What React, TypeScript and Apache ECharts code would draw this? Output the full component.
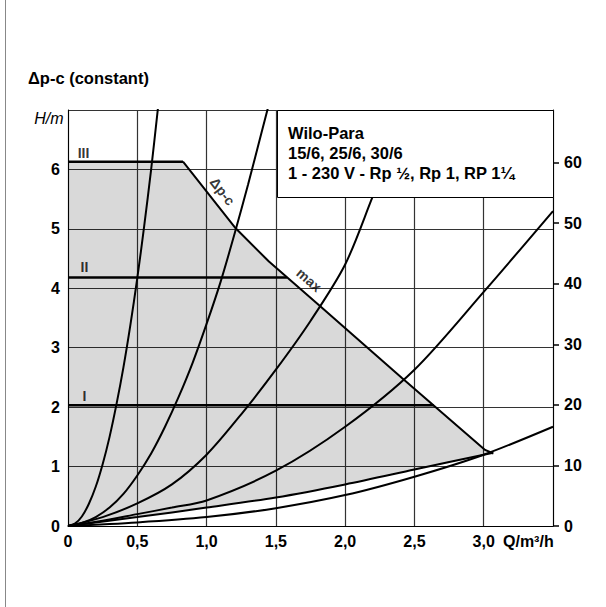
import React, { useEffect, useRef } from 'react';
import * as echarts from 'echarts';

// ---- tick labels ----
const xTickLabels = ['0', '0,5', '1,0', '1,5', '2,0', '2,5', '3,0'];
const leftTickLabels = ['0', '1', '2', '3', '4', '5', '6'];
const rightTickValues = [0, 10, 20, 30, 40, 50, 60];

// ---- system curves (Q in m3/h, H in m) ----
const curve1Q = [0, 0.05, 0.1, 0.15, 0.2, 0.25, 0.3, 0.35, 0.4, 0.45, 0.5, 0.55, 0.6, 0.65];
const curve1H = [0, 0.04, 0.16, 0.37, 0.66, 1.04, 1.5, 2.05, 2.67, 3.38, 4.17, 5.05, 6.0, 7.05];

const curve2Q = [0, 0.1, 0.2, 0.3, 0.4, 0.5, 0.6, 0.7, 0.8, 0.9, 1.0, 1.1, 1.2, 1.3, 1.4, 1.45];
const curve2H = [0, 0.05, 0.15, 0.31, 0.54, 0.85, 1.22, 1.67, 2.18, 2.75, 3.4, 4.1, 4.9, 5.75, 6.65, 7.1];

const curve3Q = [0, 0.25, 0.5, 0.75, 1.0, 1.25, 1.5, 1.75, 2.0, 2.2, 2.4];
const curve3H = [0, 0.15, 0.38, 0.7, 1.2, 1.88, 2.63, 3.45, 4.4, 5.55, 6.7];

const curve4Q = [0, 0.25, 0.5, 0.75, 1.0, 1.5, 2.0, 2.5, 3.0, 3.5];
const curve4H = [0, 0.09, 0.2, 0.31, 0.43, 0.93, 1.67, 2.63, 3.94, 5.3];

const curveAQ = [0, 0.5, 1.0, 1.5, 2.0, 2.5, 3.06];
const curveAH = [0, 0.15, 0.31, 0.48, 0.7, 0.95, 1.23];

const curveBQ = [0, 0.5, 1.0, 1.5, 2.0, 2.5, 3.0, 3.5];
const curveBH = [0, 0.06, 0.15, 0.3, 0.52, 0.83, 1.2, 1.67];

// ---- pump curve (Δp-c max) ----
const maxQ = [0.83, 1.21, 1.45, 1.81, 2.41, 3.01, 3.07];
const maxH = [6.13, 5.01, 4.45, 3.72, 2.49, 1.28, 1.22];

// ---- speed stage lines ----
const stageNames = ['III', 'II', 'I'];
const stageH = [6.13, 4.18, 2.03];
const stageEndQ = [0.83, 1.58, 2.64];

const HMAX = 7;
const KPA_PER_M = 9.81;

const zip = (q: number[], h: number[]) => q.map((v, i) => [v, h[i]]);

export default function App() {
  const ref = useRef<HTMLDivElement>(null);

  useEffect(() => {
    const chart = echarts.init(ref.current!, null, { renderer: 'svg' });
    const FONT = '"Liberation Sans", Arial, Helvetica, sans-serif';

    const fillPoly = [
      ...zip(curveAQ, curveAH),
      ...zip(maxQ, maxH).reverse(),
      [0, stageH[0]],
    ];

    const curveSeries = [
      [curve1Q, curve1H],
      [curve2Q, curve2H],
      [curve3Q, curve3H],
      [curve4Q, curve4H],
      [curveAQ, curveAH],
      [curveBQ, curveBH],
    ].map(([q, h]) => ({
      type: 'line',
      data: zip(q, h),
      showSymbol: false,
      smooth: 0.3,
      lineStyle: { color: '#000', width: 2 },
      z: 3,
      silent: true,
    }));

    const stageSeries = stageNames.map((_, i) => ({
      type: 'line',
      data: [[0, stageH[i]], [stageEndQ[i], stageH[i]]],
      showSymbol: false,
      lineStyle: { color: '#000', width: 2.5 },
      z: 4,
      silent: true,
    }));

    const labelItem = (q: number, h: number, text: string, rotate: number, size: number) => ({
      value: [q, h],
      label: {
        show: true,
        formatter: text,
        position: 'inside',
        rotate,
        color: '#000',
        fontWeight: 'bold',
        fontSize: size,
        fontFamily: FONT,
      },
    });

    const option: any = {
      animation: false,
      backgroundColor: '#fff',
      title: {
        text: 'Δp-c (constant)',
        left: 28,
        top: 69,
        padding: 0,
        textStyle: { fontSize: 16.5, fontWeight: 'bold', color: '#000', fontFamily: FONT },
      },
      grid: { left: 68, top: 110, width: 485, height: 416, outerBoundsMode: 'none', containLabel: false },
      xAxis: {
        type: 'value',
        min: 0,
        max: 3.5,
        interval: 0.5,
        axisLine: { show: true, lineStyle: { color: '#000', width: 1 } },
        axisTick: { show: false },
        splitLine: { show: true, lineStyle: { color: '#333', width: 1.2 } },
        axisLabel: {
          margin: 7,
          color: '#000',
          fontWeight: 'bold',
          fontSize: 16,
          fontFamily: FONT,
          formatter: (v: number) => xTickLabels[Math.round(v / 0.5)] ?? '',
        },
      },
      yAxis: [
        {
          type: 'value',
          min: 0,
          max: HMAX,
          interval: 1,
          axisLine: { show: true, lineStyle: { color: '#000', width: 1 } },
          axisTick: { show: false },
          splitLine: { show: true, lineStyle: { color: '#333', width: 1.2 } },
          axisLabel: {
            margin: 8,
            color: '#000',
            fontWeight: 'bold',
            fontSize: 16,
            fontFamily: FONT,
            formatter: (v: number) => leftTickLabels[Math.round(v)] ?? '',
          },
        },
        {
          type: 'value',
          position: 'right',
          min: 0,
          max: HMAX * KPA_PER_M,
          axisLine: { show: true, lineStyle: { color: '#000', width: 1 } },
          axisTick: {
            show: true,
            inside: false,
            length: 6,
            customValues: rightTickValues,
            lineStyle: { color: '#000', width: 1.5 },
          },
          splitLine: { show: false },
          axisLabel: {
            margin: 11,
            color: '#000',
            fontWeight: 'bold',
            fontSize: 16,
            fontFamily: FONT,
            customValues: rightTickValues,
            formatter: (v: number) => String(Math.round(v)),
          },
        },
      ],
      series: [
        {
          type: 'custom',
          coordinateSystem: 'cartesian2d',
          xAxisIndex: 0,
          yAxisIndex: 0,
          data: [[0, 0]],
          silent: true,
          z: 1,
          renderItem: (_p: any, api: any) => ({
            type: 'polygon',
            shape: { points: fillPoly.map((p) => api.coord(p)), smooth: 0 },
            style: { fill: 'rgba(0,0,0,0.15)', stroke: 'none' },
          }),
        },
        ...curveSeries,
        ...stageSeries,
        {
          type: 'line',
          data: zip(maxQ, maxH),
          showSymbol: false,
          lineStyle: { color: '#000', width: 2 },
          z: 4,
          silent: true,
        },
        {
          type: 'scatter',
          symbolSize: 0,
          silent: true,
          z: 5,
          data: [
            labelItem(0.112, 6.27, stageNames[0], 0, 14),
            labelItem(0.119, 4.35, stageNames[1], 0, 14),
            labelItem(0.119, 2.19, stageNames[2], 0, 14),
            labelItem(1.115, 5.63, 'Δp-c', -52, 14),
            labelItem(1.74, 4.14, 'max', -41, 14),
          ],
        },
      ],
      graphic: [
        {
          type: 'line',
          z: 100,
          shape: { x1: 5.5, y1: 0, x2: 5.5, y2: 607 },
          style: { stroke: '#888', lineWidth: 1 },
        },
        {
          type: 'text',
          z: 100,
          style: {
            text: 'H/m',
            x: 63.5,
            y: 118,
            textAlign: 'right',
            verticalAlign: 'middle',
            textVerticalAlign: 'middle',
            font: 'italic 16px ' + FONT,
            fill: '#000',
          },
        },
        {
          type: 'text',
          z: 100,
          style: {
            text: 'Q/m³/h',
            x: 503,
            y: 541.5,
            textAlign: 'left',
            verticalAlign: 'middle',
            textVerticalAlign: 'middle',
            font: 'bold 16px ' + FONT,
            fill: '#000',
          },
        },
        {
          type: 'group',
          z: 100,
          children: [
            {
              type: 'rect',
              z: 100,
              shape: { x: 277.5, y: 110.5, width: 276, height: 87 },
              style: { fill: '#fff', stroke: '#000', lineWidth: 1 },
            },
            ...['Wilo-Para', '15/6, 25/6, 30/6', '1 - 230 V - Rp ½, Rp 1, RP 1¼'].map((t, i) => ({
              type: 'text',
              z: 101,
              style: {
                text: t,
                x: 288,
                y: [133.3, 153.3, 173][i],
                textAlign: 'left',
                verticalAlign: 'middle',
                textVerticalAlign: 'middle',
                font: 'bold 16.5px ' + FONT,
                fill: '#000',
              },
            })),
          ],
        },
      ],
    };

    chart.setOption(option);
    return () => chart.dispose();
  }, []);

  return <div ref={ref} style={{ position: 'absolute', left: 0, top: 0, width: 606, height: 607 }} />;
}
